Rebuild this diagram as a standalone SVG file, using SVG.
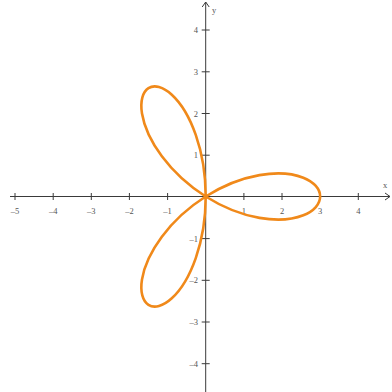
<svg xmlns="http://www.w3.org/2000/svg" width="392" height="392" viewBox="0 0 392 392">
<style>
.ax{stroke:#3a3a3a;stroke-width:1;fill:none}
.tk{stroke:#3a3a3a;stroke-width:1}
.lb{font-family:"Liberation Serif",serif;font-size:8.5px;fill:#555}
.curve{fill:none;stroke:#F0891A;stroke-width:2.6;stroke-linejoin:round}
</style>
<rect width="392" height="392" fill="#fff"/>
<g id="axes">
<line class="ax" x1="10" y1="196.5" x2="390" y2="196.5"/>
<polyline class="ax" points="385,193 390,196.5 385,200"/>
<line class="ax" x1="205.7" y1="2" x2="205.7" y2="392"/>
<polyline class="ax" points="202.2,7 205.7,2 209.2,7"/>
</g>
<g id="xticks">
<line class="tk" x1="15" y1="193" x2="15" y2="200"/>
<line class="tk" x1="53.2" y1="193" x2="53.2" y2="200"/>
<line class="tk" x1="91.3" y1="193" x2="91.3" y2="200"/>
<line class="tk" x1="129.4" y1="193" x2="129.4" y2="200"/>
<line class="tk" x1="167.6" y1="193" x2="167.6" y2="200"/>
<line class="tk" x1="243.9" y1="193" x2="243.9" y2="200"/>
<line class="tk" x1="282" y1="193" x2="282" y2="200"/>
<line class="tk" x1="320.2" y1="193" x2="320.2" y2="200"/>
<line class="tk" x1="358.3" y1="193" x2="358.3" y2="200"/>
</g>
<g id="yticks">
<line class="tk" x1="201.7" y1="30" x2="209.7" y2="30"/>
<line class="tk" x1="201.7" y1="71.8" x2="209.7" y2="71.8"/>
<line class="tk" x1="201.7" y1="113.5" x2="209.7" y2="113.5"/>
<line class="tk" x1="201.7" y1="155.2" x2="209.7" y2="155.2"/>
<line class="tk" x1="201.7" y1="238.6" x2="209.7" y2="238.6"/>
<line class="tk" x1="201.7" y1="280.3" x2="209.7" y2="280.3"/>
<line class="tk" x1="201.7" y1="322" x2="209.7" y2="322"/>
<line class="tk" x1="201.7" y1="363.7" x2="209.7" y2="363.7"/>
</g>
<g id="xlabels" class="lb" text-anchor="middle">
<text x="15" y="214">–5</text>
<text x="53.2" y="214">–4</text>
<text x="91.3" y="214">–3</text>
<text x="129.4" y="214">–2</text>
<text x="167.6" y="214">–1</text>
<text x="243.9" y="214">1</text>
<text x="282" y="214">2</text>
<text x="320.2" y="214">3</text>
<text x="358.3" y="214">4</text>
<text x="385" y="188">x</text>
</g>
<g id="ylabels" class="lb" text-anchor="end">
<text x="198" y="33">4</text>
<text x="198" y="74.8">3</text>
<text x="198" y="116.5">2</text>
<text x="198" y="158.2">1</text>
<text x="198" y="241.6">–1</text>
<text x="198" y="283.3">–2</text>
<text x="198" y="325">–3</text>
<text x="198" y="366.7">–4</text>
<text x="214" y="13" text-anchor="middle">y</text>
</g>
<g id="rose" transform="matrix(38.15 0 0 -41.7 205.7 196.5)">
<path class="curve" vector-effect="non-scaling-stroke" d="M3,0 C3,0.17453 2.84267,0.34777 2.5586,0.45116 C2.27453,0.55455 1.86549,0.58611 1.40954,0.51303 C0.95359,0.43995 0.45345,0.2618 0,0 C-0.45345,-0.2618 -0.85779,-0.60586 -1.14906,-0.96418 C-1.44033,-1.3225 -1.61752,-1.69254 -1.67001,-1.99025 C-1.7225,-2.28796 -1.65115,-2.51081 -1.5,-2.59808 C-1.34885,-2.68535 -1.12016,-2.63571 -0.88858,-2.4414 C-0.657,-2.24709 -0.42515,-1.90862 -0.26047,-1.47721 C-0.09579,-1.0458 0,-0.5236 0,0 C0,0.5236 -0.09579,1.0458 -0.26047,1.47721 C-0.42515,1.90862 -0.657,2.24709 -0.88858,2.4414 C-1.12016,2.63571 -1.34885,2.68535 -1.5,2.59808 C-1.65115,2.51081 -1.7225,2.28796 -1.67001,1.99025 C-1.61752,1.69254 -1.44033,1.3225 -1.14906,0.96418 C-0.85779,0.60586 -0.45345,0.2618 0,0 C0.45345,-0.2618 0.95359,-0.43995 1.40954,-0.51303 C1.86549,-0.58611 2.27453,-0.55455 2.5586,-0.45116 C2.84267,-0.34777 3,-0.17453 3,0 Z"/>
</g>
</svg>
